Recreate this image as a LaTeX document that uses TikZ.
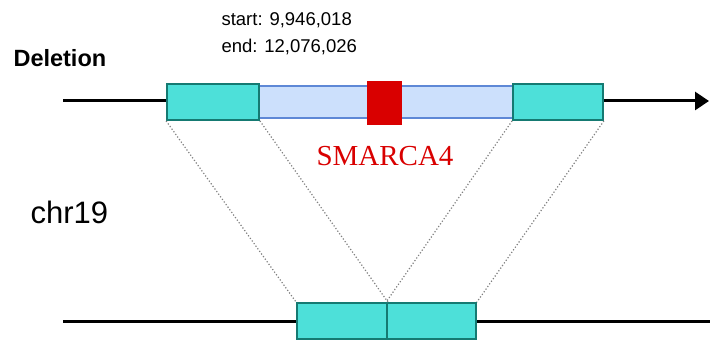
\documentclass[tikz,border=0pt]{standalone}
\usepackage{fontspec}
\setmainfont{Liberation Serif}
\setsansfont{Liberation Sans}
\usepackage{tikz}
\usetikzlibrary{positioning,arrows.meta}

\definecolor{flankfill}{HTML}{4DE0D9}
\definecolor{flankdraw}{HTML}{157A72}
\definecolor{gapfill}{HTML}{CCE0FC}
\definecolor{gapdraw}{HTML}{5E88D6}
\definecolor{genered}{HTML}{D90000}

\tikzset{
  flank/.style={draw=flankdraw,fill=flankfill,line width=1.8pt,minimum height=36pt,inner sep=0pt},
  gapbox/.style={draw=gapdraw,fill=gapfill,line width=1.5pt,minimum height=32pt,inner sep=0pt},
  genebox/.style={fill=genered,minimum width=35pt,minimum height=44pt,inner sep=0pt},
  chrom/.style={line width=3pt,black},
  junction/.style={gray,dotted,line width=1.2pt},
}

\begin{document}
\begin{tikzpicture}[x=1pt,y=1pt]
\useasboundingbox (0,0) rectangle (710,340);
% chromosome lines
\coordinate (tstart) at (63,239);
\coordinate (tend) at (709,239);
\coordinate (bstart) at (63,18);
\coordinate (bend) at (710,18);
\draw[chrom,-{Triangle[length=14pt,width=18pt]}] (tstart) -- (tend);
\draw[chrom] (bstart) -- (bend);
% reference segment
\node[gapbox,minimum width=254pt] (gap) at (386,238) {};
\node[flank,minimum width=92pt] (lflank) at (213,238) {};
\node[flank,minimum width=90pt] (rflank) at (558,238) {};
\node[genebox] (gene) at (384.5,237) {};
% joined segment
\node[flank,minimum width=90pt] (bl) at (342,19) {};
\node[flank,minimum width=89pt] (br) at (431.5,19) {};
\draw[junction] (lflank.south west) -- (bl.north west);
\draw[junction] (lflank.south east) -- (bl.north east);
\draw[junction] (rflank.south west) -- (br.north west);
\draw[junction] (rflank.south east) -- (br.north east);
% labels
\node[font=\sffamily\bfseries\fontsize{23.5}{26}\selectfont,anchor=west] (del) at (10,282) {Deletion};
\node[font=\sffamily\fontsize{31}{34}\selectfont,anchor=west] (chr) at (27,128) {chr19};
\node[font=\sffamily\fontsize{18.5}{27}\selectfont,align=left,anchor=west] (coords) at (218,306) {start: 9,946,018\\end: 12,076,026};
\node[font=\fontsize{29}{32}\selectfont,text=genered] (gname) at (385,184) {SMARCA4};
\end{tikzpicture}
\end{document}
